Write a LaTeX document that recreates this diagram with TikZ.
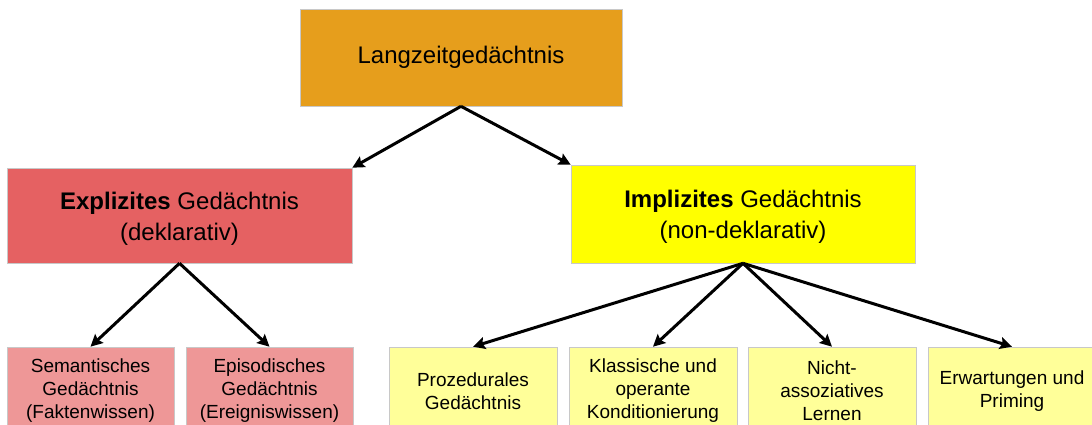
\documentclass[tikz,border=0pt]{standalone}
\usepackage{fontspec}
\setmainfont{Liberation Sans}
\usetikzlibrary{arrows.meta}
\definecolor{cTop}{HTML}{E69E1C}
\definecolor{cExp}{HTML}{E56162}
\definecolor{cImp}{HTML}{FFFF00}
\definecolor{cExpL}{HTML}{EE9797}
\definecolor{cImpL}{HTML}{FFFF99}
\definecolor{cBorder}{HTML}{C8C8C8}
\tikzset{
  box/.style={draw=cBorder, line width=0.6pt, align=center, inner sep=0pt, anchor=center},
  bigtext/.style={font=\fontsize{24}{31}\selectfont},
  smalltext/.style={font=\fontsize{19}{23}\selectfont},
  txt/.style={align=center, inner sep=0pt, yshift=-3pt},
  arr/.style={line width=3pt, -{Stealth[length=12pt,width=12pt,inset=2pt]}}
}
\begin{document}
\begin{tikzpicture}[x=1pt,y=-1pt]
\useasboundingbox (0,0) rectangle (1092,425);
\begin{scope}
\clip (0,0) rectangle (1092,425);
\node[box, bigtext, fill=cTop, minimum width=322pt, minimum height=97pt] (top) at (461,57.5) {Langzeitgedächtnis};
\node[box, fill=cExp, minimum width=345pt, minimum height=95pt,
  label={[txt, bigtext]center:\textbf{Explizites} Gedächtnis\\(deklarativ)}] (exp) at (179.5,215.5) {};
\node[box, fill=cImp, minimum width=344pt, minimum height=98pt,
  label={[txt, bigtext]center:\textbf{Implizites} Gedächtnis\\(non-deklarativ)}] (imp) at (743,214) {};
\node[box, fill=cExpL, minimum width=167pt, minimum height=82pt,
  label={[txt, smalltext]center:Semantisches\\Gedächtnis\\(Faktenwissen)}] (sem) at (90.5,388) {};
\node[box, fill=cExpL, minimum width=167pt, minimum height=82pt,
  label={[txt, smalltext]center:Episodisches\\Gedächtnis\\(Ereigniswissen)}] (epi) at (269.5,388) {};
\node[box, fill=cImpL, minimum width=168pt, minimum height=82pt,
  label={[txt, smalltext]center:Prozedurales\\Gedächtnis}] (proz) at (473,388) {};
\node[box, fill=cImpL, minimum width=168pt, minimum height=82pt,
  label={[txt, smalltext]center:Klassische und\\operante\\Konditionierung}] (klass) at (653,388) {};
\node[box, fill=cImpL, minimum width=168pt, minimum height=82pt,
  label={[txt, smalltext]center:Nicht-\\assoziatives\\Lernen}] (nicht) at (832,388) {};
\node[box, fill=cImpL, minimum width=168pt, minimum height=82pt,
  label={[txt, smalltext]center:Erwartungen und\\Priming}] (erw) at (1012,388) {};
\end{scope}
\draw[arr] (top.south) -- (exp.north east);
\draw[arr] (top.south) -- (imp.north west);
\draw[arr] (exp.south) -- (sem.north);
\draw[arr] (exp.south) -- (epi.north);
\draw[arr] (imp.south) -- (proz.north);
\draw[arr] (imp.south) -- (klass.north);
\draw[arr] (imp.south) -- (nicht.north);
\draw[arr] (imp.south) -- (erw.north);
\end{tikzpicture}
\end{document}
